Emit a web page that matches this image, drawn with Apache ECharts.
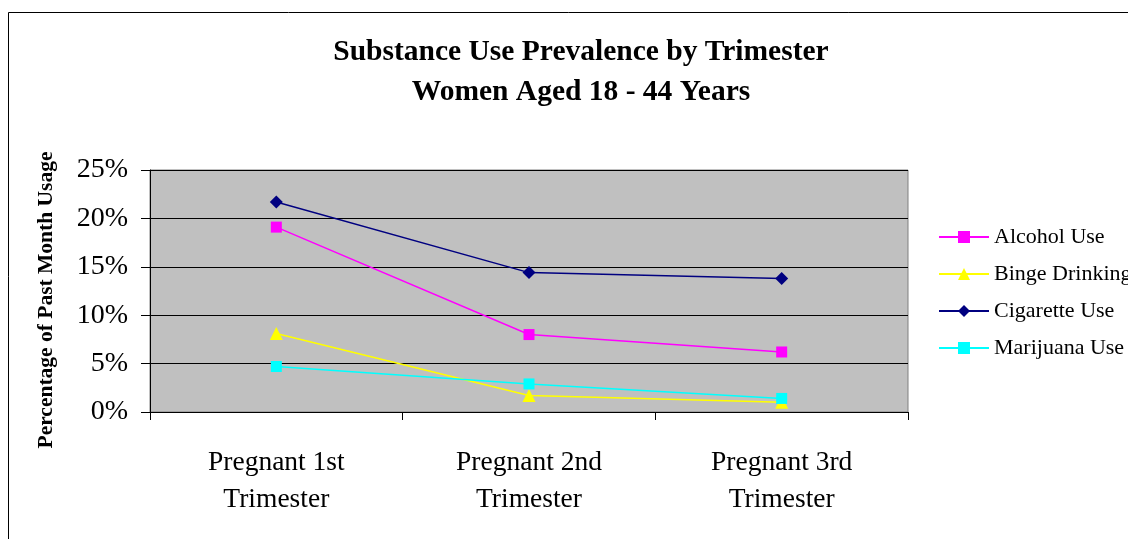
<!DOCTYPE html>
<html>
<head>
<meta charset="utf-8">
<script src="https://cdn.jsdelivr.net/npm/echarts@6/dist/echarts.min.js"></script>
<style>
  html, body { margin: 0; padding: 0; background: #fff; }
  #chart { width: 1128px; height: 539px; }
</style>
</head>
<body>
<div id="chart"></div>
<script>
  // values, in percent
  var trimesters = ['Pregnant 1st\nTrimester', 'Pregnant 2nd\nTrimester', 'Pregnant 3rd\nTrimester'];
  var alcoholUse = [19.1, 8.0, 6.2];
  var bingeDrinking = [8.1, 1.7, 1.0];
  var cigaretteUse = [21.7, 14.4, 13.8];
  var marijuanaUse = [4.7, 2.9, 1.4];

  var serif = '"Liberation Serif", "Times New Roman", serif';

  function lineSeries(name, data, color, symbol, size) {
    return {
      name: name,
      type: 'line',
      data: data,
      symbol: symbol,
      symbolSize: size,
      showAllSymbol: true,
      itemStyle: { color: color },
      lineStyle: { color: color, width: 1.5 },
      emphasis: { disabled: true }
    };
  }

  var chart = echarts.init(document.getElementById('chart'));
  var option = {
    animation: false,
    backgroundColor: '#fff',
    graphic: [{
      type: 'rect',
      shape: { x: 8.5, y: 12.5, width: 1200, height: 600 },
      style: { fill: 'none', stroke: '#000', lineWidth: 1 },
      silent: true
    }],
    title: {
      text: 'Substance Use Prevalence by Trimester\nWomen Aged 18 - 44 Years',
      left: 576,
      top: 27,
      textAlign: 'center',
      textStyle: {
        fontFamily: serif,
        fontWeight: 'bold',
        fontSize: 29.5,
        lineHeight: 40,
        color: '#000'
      }
    },
    legend: {
      left: 933,
      top: 221,
      orient: 'vertical',
      itemWidth: 50,
      itemHeight: 15,
      itemGap: 15,
      textStyle: { fontFamily: serif, fontSize: 22, color: '#000' },
      data: ['Alcohol Use', 'Binge Drinking', 'Cigarette Use', 'Marijuana Use']
    },
    grid: {
      left: 150,
      right: 220,
      top: 170,
      bottom: 127,
      show: true,
      backgroundColor: '#C0C0C0',
      borderColor: '#808080',
      borderWidth: 1
    },
    xAxis: {
      type: 'category',
      data: trimesters,
      boundaryGap: true,
      axisLine: { lineStyle: { color: '#000', width: 1 } },
      axisTick: { show: true, length: 8, lineStyle: { color: '#000' } },
      axisLabel: {
        fontFamily: serif,
        fontSize: 27.5,
        lineHeight: 37,
        color: '#000',
        margin: 32
      }
    },
    yAxis: {
      type: 'value',
      min: 0,
      max: 25,
      interval: 5,
      name: 'Percentage of Past Month Usage',
      nameLocation: 'middle',
      nameGap: 93,
      nameTextStyle: {
        fontFamily: serif,
        fontWeight: 'bold',
        fontSize: 21.5,
        color: '#000',
        padding: [0, 18, 0, 0]
      },
      axisLine: { show: true, lineStyle: { color: '#000', width: 1 } },
      axisTick: { show: true, length: 9, lineStyle: { color: '#000' } },
      axisLabel: {
        formatter: '{value}%',
        fontFamily: serif,
        fontSize: 28,
        color: '#000',
        margin: 22
      },
      splitLine: { show: true, lineStyle: { color: '#000', width: 1 } }
    },
    series: [
      lineSeries('Alcohol Use', alcoholUse, '#FF00FF', 'rect', 11),
      lineSeries('Binge Drinking', bingeDrinking, '#FFFF00', 'triangle', 13),
      lineSeries('Cigarette Use', cigaretteUse, '#000080', 'diamond', 13),
      lineSeries('Marijuana Use', marijuanaUse, '#00FFFF', 'rect', 11)
    ]
  };
  chart.setOption(option);
</script>
</body>
</html>
